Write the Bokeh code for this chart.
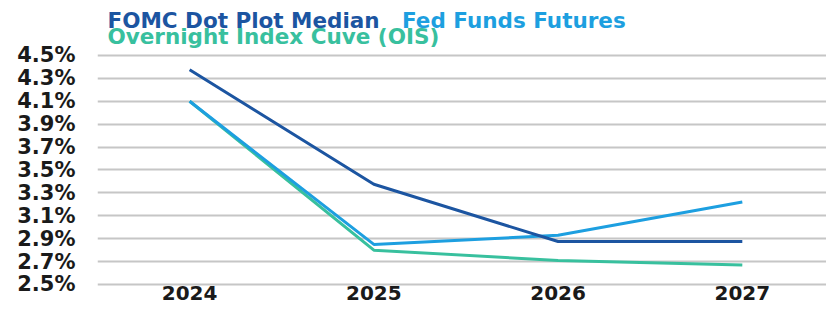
from bokeh.plotting import figure
from bokeh.models import Range1d, FixedTicker, PrintfTickFormatter, Label
from bokeh.embed import file_html
from bokeh.resources import INLINE

years = ["2024", "2025", "2026", "2027"]
fomc = [4.375, 3.375, 2.875, 2.875]
futures = [4.10, 2.85, 2.93, 3.22]
ois = [4.10, 2.80, 2.71, 2.67]
series_names = ["FOMC Dot Plot Median", "Fed Funds Futures", "Overnight Index Cuve (OIS)"]
colors = ["#1c55a1", "#1d9fe0", "#38c09e"]
y_ticks = [2.5, 2.7, 2.9, 3.1, 3.3, 3.5, 3.7, 3.9, 4.1, 4.3, 4.5]

FONT = "DejaVu Sans"
xpos = list(range(len(years)))

p = figure(
    x_range=Range1d(-0.5, 3.457),
    y_range=Range1d(2.2729, 4.980),
    width=826, height=310,
    output_backend="svg", toolbar_location=None,
    min_border_left=97, min_border_right=0, min_border_top=0, min_border_bottom=0,
)
p.outline_line_color = None
p.background_fill_color = "white"
p.border_fill_color = "white"

p.xgrid.grid_line_color = None
p.ygrid.grid_line_color = "#c6c6c6"
p.ygrid.grid_line_width = 2

p.yaxis.ticker = FixedTicker(ticks=y_ticks)
p.yaxis.formatter = PrintfTickFormatter(format="%.1f%%")
p.xaxis.ticker = FixedTicker(ticks=xpos)
p.xaxis.major_label_overrides = {i: y for i, y in zip(xpos, years)}
p.xaxis.fixed_location = y_ticks[0]
for ax in (p.xaxis, p.yaxis):
    ax.axis_line_color = None
    ax.major_tick_line_color = None
    ax.minor_tick_line_color = None
    ax.major_tick_out = 0
    ax.major_tick_in = 0
    ax.minor_tick_out = 0
    ax.minor_tick_in = 0
    ax.major_label_text_font = FONT
    ax.major_label_text_font_style = "bold"
    ax.major_label_text_color = "#1a1a1a"
p.yaxis.major_label_text_font_size = "21px"
p.yaxis.major_label_standoff = 22
p.xaxis.major_label_text_font_size = "20px"
p.xaxis.major_label_standoff = 2

p.line(xpos, ois, line_color=colors[2], line_width=3)
p.line(xpos, futures, line_color=colors[1], line_width=3)
p.line(xpos, fomc, line_color=colors[0], line_width=3)

legend_pos = [(-0.446, 4.805), (1.153, 4.805), (-0.446, 4.665)]
for name, col, (lx, ly) in zip(series_names, colors, legend_pos):
    p.add_layout(Label(x=lx, y=ly, text=name, text_color=col, text_font=FONT,
                       text_font_style="bold", text_font_size="21.5px",
                       text_baseline="alphabetic"))

open("out.html", "w").write(file_html(p, INLINE))
